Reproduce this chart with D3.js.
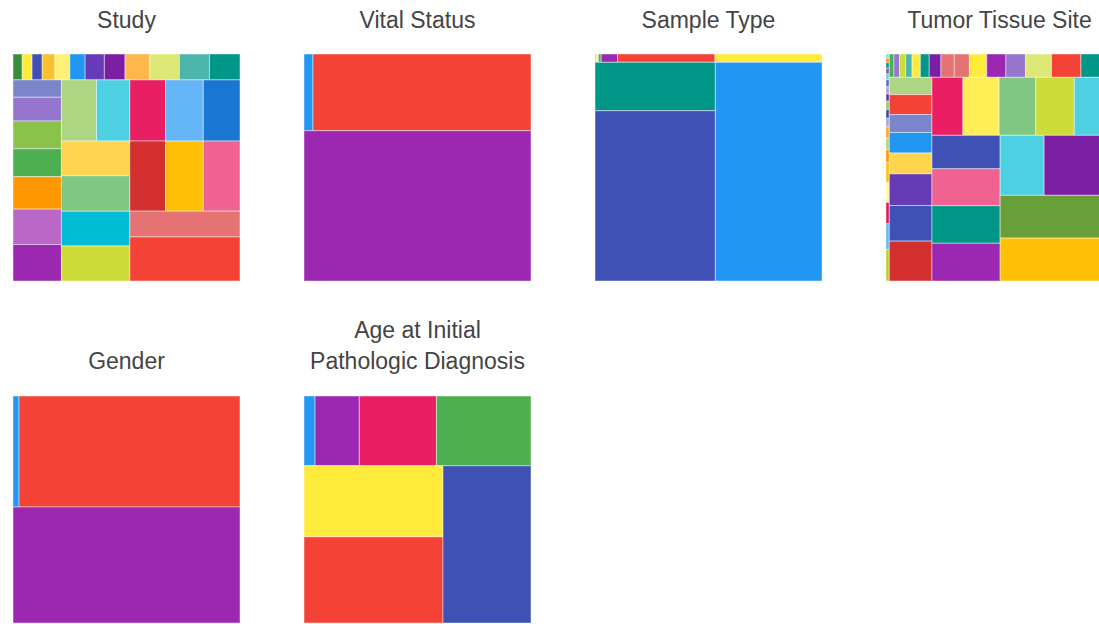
<!DOCTYPE html>
<html>
<head>
<meta charset="utf-8">
<script src="https://cdn.jsdelivr.net/npm/d3@7"></script>
<style>
  html, body { margin: 0; padding: 0; background: #fff; overflow: hidden; }
  svg { display: block; }
  .title { font-family: "Liberation Sans", Arial, sans-serif; font-size: 23px; fill: #444; text-anchor: middle; }
</style>
</head>
<body>
<svg id="chart" width="1099" height="624"></svg>
<script>
// ---------- DATA ----------
// Study
const studyCategories = ["CHOL","UCS","DLBC","UVM","MESO","ACC","KICH","THYM","TGCT","READ","PCPG","ESCA",
  "PAAD","LAML","SARC","KIRP","CESC","LIHC","BLCA",
  "STAD","COAD","SKCM","PRAD","LUSC",
  "THCA","LGG","LUAD","HNSC",
  "KIRC","UCEC","OV",
  "GBM","BRCA"];
const studyValues = [51,54,56,70,82,84,106,114,137,162,166,168,
  179,245,286,288,334,365,376,
  456,434,465,490,478,
  506,515,506,510,
  534,562,548,
  604,1033];
const studyColors = ["#388E3C","#FFEB3B","#3F51B5","#FBC02D","#FFF176","#2196F3","#673AB7","#7B1FA2","#FFB74D","#DCE775","#4DB6AC","#009688",
  "#7986CB","#9575CD","#8BC34A","#4CAF50","#FF9800","#BA68C8","#9C27B0",
  "#AED581","#4DD0E1","#E91E63","#64B5F6","#1976D2",
  "#FFD54F","#81C784","#00BCD4","#CDDC39",
  "#D32F2F","#FFC107","#F06292",
  "#E57373","#F44336"];
const studyGroups = [12,7,5,4,3,2];

// Vital Status
const vitalCategories = ["[Not Available]","Dead","Alive"];
const vitalValues = [147,3570,7284];
const vitalColors = ["#2196F3","#F44336","#9C27B0"];
const vitalGroups = [2,1];

// Sample Type
const sampleCategories = ["Additional Metastatic","Primary Blood Derived Cancer - Bone Marrow","Additional - New Primary",
  "Recurrent Solid Tumor","Primary Blood Derived Cancer - Peripheral Blood","Metastatic",
  "Solid Tissue Normal","Blood Derived Normal","Primary Solid Tumor"];
const sampleValues = [3,3,5,29,173,190,1245,4381,4987];
const sampleColors = ["#FFB74D","#FFF176","#4CAF50","#9C27B0","#F44336","#FFEB3B","#009688","#3F51B5","#2196F3"];
const sampleGroups = [6,2,1];

// Tumor Tissue Site
const tumorCategories = [
  "Anterior Mediastinum","Bile Duct","Bone","Chest","Extremities","Eye","Gallbladder","Lymph Node","Omentum",
  "Pancreas Body","Pelvis","Peritoneum","Pleura","Retroperitoneum","Abdomen","Trunk","Soft Tissue","Skin","Other",
  "Bone Marrow","Adrenal","Thymus","Esophagus","Rectum","Testes","Paraganglia","Choroid","Ciliary Body","Pancreas",
  "Mesothelium","Uterus","Lymphoid","Liver","Sarcoma",
  "Cervical","Head and Neck","Bladder","Melanoma","Rectosigmoid","Endometrial","Prostate","Stomach",
  "Colon","Thyroid","Lung Upper Lobe","Central Nervous System","Kidney Left",
  "Kidney Right","Ovary","Lung Lower Lobe","Brain",
  "Kidney","Lung",
  "Oral Cavity","Breast"];
const tumorValues = [3,3,4,4,4,5,5,5,6,6,6,8,8,9,14,14,15,18,22,
  23,28,30,32,41,44,58,66,75,86,95,97,129,146,159,
  157,181,163,186,190,287,323,362,
  382,447,452,476,478,
  486,535,545,548,
  561,879,
  1028,1030];
const tumorColors = ["#80DEEA","#FF9800","#009688","#7E57C2","#80CBC4","#5C6BC0","#B39DDB","#5E35B1","#9CCC65","#3949AB","#9FA8DA","#FFA726","#AED581","#FF9800","#FFC107","#FFF59D","#D81B60","#64B5F6","#C0CA33",
  "#4CAF50","#9575CD","#CDDC39","#4DB6AC","#FFEB3B","#009688","#7B1FA2","#E57373","#E57373","#FFEB3B","#9C27B0","#9575CD","#DCE775","#F44336","#009688",
  "#AED581","#F44336","#7986CB","#2196F3","#FFD54F","#673AB7","#3F51B5","#D32F2F",
  "#E91E63","#FFEE58","#81C784","#CDDC39","#4DD0E1",
  "#3F51B5","#F06292","#009688","#9C27B0",
  "#4DD0E1","#7B1FA2",
  "#689F38","#FFC107"];
const tumorGroups = [19,15,8,5,4,2,2];

// Gender
const genderCategories = ["[Not Available]","MALE","FEMALE"];
const genderValues = [142,5237,5622];
const genderColors = ["#2196F3","#F44336","#9C27B0"];
const genderGroups = [2,1];

// Age at Initial Pathologic Diagnosis
const ageCategories = ["<20","80+","20-39","40-49","70-79","50-59","60-69"];
const ageValues = [164,658,1146,1405,2107,2552,2950];
const ageColors = ["#2196F3","#9C27B0","#E91E63","#4CAF50","#FFEB3B","#F44336","#3F51B5"];
const ageGroups = [4,2,1];

// ---------- LAYOUT ----------
const charts = [
  {title: ["Study"], cats: studyCategories, vals: studyValues, colors: studyColors, groups: studyGroups, startSlice: false, col: 0, row: 0},
  {title: ["Vital Status"], cats: vitalCategories, vals: vitalValues, colors: vitalColors, groups: vitalGroups, startSlice: false, col: 1, row: 0},
  {title: ["Sample Type"], cats: sampleCategories, vals: sampleValues, colors: sampleColors, groups: sampleGroups, startSlice: false, col: 2, row: 0},
  {title: ["Tumor Tissue Site"], cats: tumorCategories, vals: tumorValues, colors: tumorColors, groups: tumorGroups, startSlice: true, col: 3, row: 0},
  {title: ["Gender"], cats: genderCategories, vals: genderValues, colors: genderColors, groups: genderGroups, startSlice: false, col: 0, row: 1},
  {title: ["Age at Initial", "Pathologic Diagnosis"], cats: ageCategories, vals: ageValues, colors: ageColors, groups: ageGroups, startSlice: false, col: 1, row: 1}
];

const SIZE = 227;
const X0 = 13, XSTEP = 291;
const ROW_Y = [54, 396];
const TITLE_BASE = [28, 369];
const LINE_H = 31;

// squarify-style row tiling: consecutive groups, alternating columns (left) and rows (top)
function groupedTile(groups, startSlice) {
  return function(parent, x0, y0, x1, y1) {
    const nodes = parent.children;
    let value = parent.value, i = 0, slice = startSlice;
    groups.forEach(count => {
      const row = {children: nodes.slice(i, i + count)};
      row.value = d3.sum(row.children, d => d.value);
      if (slice) {
        const x = value ? x0 + (x1 - x0) * row.value / value : x1;
        d3.treemapSlice(row, x0, y0, x, y1);
        x0 = x;
      } else {
        const y = value ? y0 + (y1 - y0) * row.value / value : y1;
        d3.treemapDice(row, x0, y0, x1, y);
        y0 = y;
      }
      value -= row.value; i += count; slice = !slice;
    });
  };
}

const svg = d3.select("#chart");

charts.forEach(c => {
  const gx = X0 + c.col * XSTEP;
  const gy = ROW_Y[c.row];
  const items = c.cats.map((name, i) => ({name, value: c.vals[i], color: c.colors[i]}));
  const root = d3.hierarchy({children: items}).sum(d => d.value || 0);
  d3.treemap().size([SIZE, SIZE]).tile(groupedTile(c.groups, c.startSlice))(root);

  const g = svg.append("g").attr("transform", `translate(${gx},${gy})`);
  g.selectAll("rect")
    .data(root.leaves())
    .join("rect")
    .attr("x", d => d.x0)
    .attr("y", d => d.y0)
    .attr("width", d => Math.max(0, d.x1 - d.x0))
    .attr("height", d => Math.max(0, d.y1 - d.y0))
    .attr("fill", d => d.data.color)
    .attr("stroke", "#ffffff")
    .attr("stroke-opacity", 0.45)
    .attr("stroke-width", 1)
    .append("title").text(d => `${d.data.name}: ${d.data.value}`);

  const n = c.title.length;
  const base = TITLE_BASE[c.row];
  c.title.forEach((line, k) => {
    svg.append("text")
      .attr("class", "title")
      .attr("x", gx + SIZE / 2)
      .attr("y", base - (n - 1 - k) * LINE_H)
      .text(line);
  });
});
</script>
</body>
</html>
